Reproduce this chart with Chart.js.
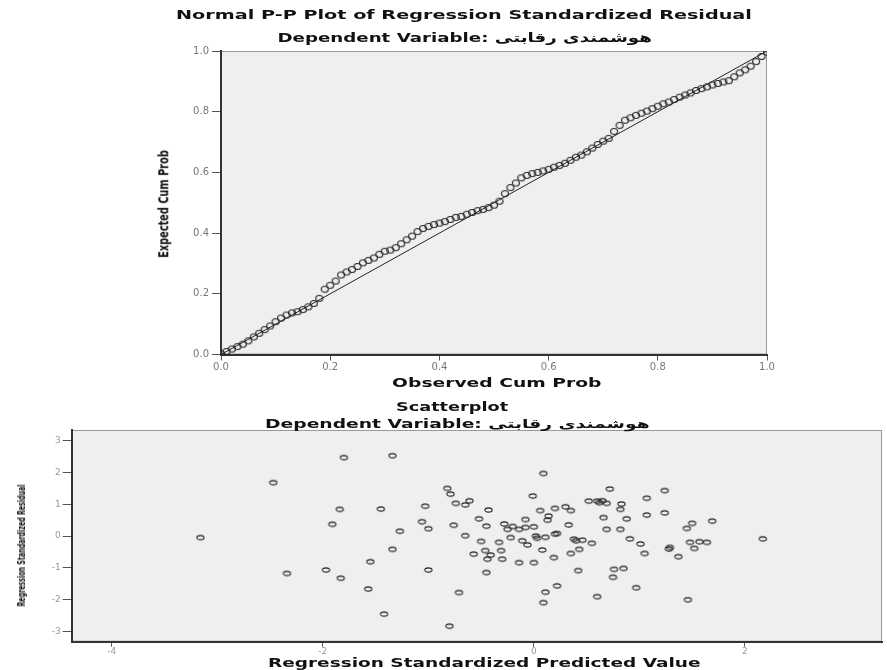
<!DOCTYPE html>
<html>
<head>
<meta charset="utf-8">
<script src="https://cdn.jsdelivr.net/npm/chart.js@4.4.1/dist/chart.umd.min.js"></script>
<style>
  body { margin: 0; background: #fff; width: 887px; height: 670px; overflow: hidden; position: relative; font-family: "DejaVu Sans", sans-serif; }
  canvas { position: absolute; left: 0; }
  #pp { top: 0; }
  #sc { top: 400px; }
  .lbl { position: absolute; white-space: nowrap; font-weight: bold; color: #111; line-height: 1; }
</style>
</head>
<body>
<canvas id="pp" width="887" height="400"></canvas>
<canvas id="sc" width="887" height="270"></canvas>
<script>
// P-P plot: observed vs expected cumulative probability
const ppObserved = [0.00,0.01,0.02,0.03,0.04,0.05,0.06,0.07,0.08,0.09,0.10,0.11,0.12,0.13,0.14,0.15,0.16,0.17,0.18,0.19,
  0.20,0.21,0.22,0.23,0.24,0.25,0.26,0.27,0.28,0.29,0.30,0.31,0.32,0.33,0.34,0.35,0.36,0.37,0.38,0.39,
  0.40,0.41,0.42,0.43,0.44,0.45,0.46,0.47,0.48,0.49,0.50,0.51,0.52,0.53,0.54,0.55,0.56,0.57,0.58,0.59,
  0.60,0.61,0.62,0.63,0.64,0.65,0.66,0.67,0.68,0.69,0.70,0.71,0.72,0.73,0.74,0.75,0.76,0.77,0.78,0.79,
  0.80,0.81,0.82,0.83,0.84,0.85,0.86,0.87,0.88,0.89,0.90,0.91,0.92,0.93,0.94,0.95,0.96,0.97,0.98,0.99,1.00];
const ppExpected = [0.003,0.010,0.018,0.026,0.034,0.045,0.058,0.070,0.082,0.094,0.108,0.120,0.130,0.137,0.141,0.148,0.157,0.168,0.185,0.215,
  0.228,0.242,0.262,0.272,0.280,0.290,0.302,0.310,0.318,0.330,0.340,0.344,0.352,0.365,0.378,0.390,0.405,0.415,0.422,0.428,
  0.433,0.438,0.445,0.452,0.455,0.462,0.468,0.474,0.478,0.484,0.492,0.505,0.530,0.550,0.565,0.582,0.590,0.596,0.600,0.605,
  0.610,0.617,0.623,0.630,0.640,0.650,0.657,0.668,0.680,0.692,0.703,0.712,0.735,0.755,0.772,0.780,0.788,0.795,0.802,0.810,
  0.818,0.826,0.832,0.840,0.848,0.855,0.862,0.870,0.876,0.882,0.888,0.893,0.898,0.902,0.915,0.928,0.938,0.950,0.965,0.982,0.996];
const diagLine = [0, 1];
const ppTicks = [0, 0.2, 0.4, 0.6, 0.8, 1.0];

// Scatterplot: standardized predicted value vs standardized residual
const scatterX = [-1.80,-1.34,-2.47,-1.84,-1.45,-1.03,-1.91,-1.06,-1.27,-1.00,-3.16,-1.34,-1.55,-1.97,-1.00,-2.34,-1.83,-1.57,-1.42,
  0.09,-0.82,-0.79,-0.61,-0.74,-0.65,-0.01,-0.43,0.06,0.20,0.30,0.35,0.14,0.13,0.52,0.60,0.65,0.69,0.72,0.83,0.82,
  1.07,1.24,1.24,1.07,0.88,0.66,-0.52,-0.08,-0.76,-0.45,-0.28,-0.25,-0.14,-0.08,0.00,0.33,0.69,0.82,1.50,1.45,1.69,
  -0.65,-0.50,-0.33,-0.11,0.02,0.11,0.20,-0.06,0.38,0.46,0.55,0.91,1.01,1.29,1.28,1.48,1.57,1.64,1.52,1.37,1.05,
  -0.57,-0.46,-0.31,-0.41,-0.44,-0.30,-0.14,0.00,0.08,0.19,0.35,0.43,-0.45,0.42,0.76,0.85,0.75,-0.71,0.22,0.11,0.09,
  0.60,0.97,1.46,-0.80,2.17,0.03,0.22,-0.20,0.40,-0.22,0.62];
const scatterY = [2.47,2.53,1.68,0.84,0.85,0.94,0.37,0.45,0.15,0.23,-0.05,-0.42,-0.81,-1.07,-1.07,-1.18,-1.33,-1.67,-2.46,
  1.97,1.50,1.32,1.11,1.03,0.98,1.26,0.82,0.80,0.87,0.92,0.80,0.63,0.50,1.10,1.10,1.11,1.03,1.48,1.01,0.84,
  1.19,1.43,0.73,0.66,0.54,0.58,0.54,0.52,0.34,0.31,0.38,0.21,0.21,0.27,0.29,0.35,0.21,0.21,0.40,0.24,0.47,
  0.01,-0.17,-0.20,-0.15,0.00,-0.04,0.06,-0.28,-0.10,-0.13,-0.23,-0.09,-0.25,-0.36,-0.41,-0.20,-0.18,-0.20,-0.39,-0.65,-0.55,
  -0.57,-0.46,-0.46,-0.60,-0.73,-0.73,-0.84,-0.84,-0.44,-0.68,-0.55,-0.42,-1.15,-1.09,-1.05,-1.02,-1.30,-1.78,-1.57,-1.77,-2.10,
  -1.91,-1.63,-2.01,-2.84,-0.09,-0.07,0.08,0.30,-0.15,-0.05,1.05];
const scatterXTicks = [-4, -2, 0, 2];
const scatterYTicks = [3, 2, 1, 0, -1, -2, -3];

Chart.defaults.font.family = '"DejaVu Sans", sans-serif';
Chart.defaults.animation = false;

// grey plot area with a thin frame
const plotBg = {
  id: "plotBg",
  beforeDraw(chart) {
    const { ctx, chartArea: a } = chart;
    ctx.save();
    ctx.fillStyle = "#efefef";
    ctx.fillRect(a.left, a.top, a.right - a.left, a.bottom - a.top);
    ctx.strokeStyle = "#9a9a9a";
    ctx.lineWidth = 1;
    ctx.strokeRect(a.left + 0.5, a.top + 0.5, a.right - a.left - 1, a.bottom - a.top - 1);
    ctx.restore();
  }
};

function ring(rx, ry) {
  const c = document.createElement("canvas");
  c.width = Math.ceil(rx * 2 + 3);
  c.height = Math.ceil(ry * 2 + 3);
  const g = c.getContext("2d");
  g.strokeStyle = "#222";
  g.lineWidth = 1.1;
  g.beginPath();
  g.ellipse(c.width / 2, c.height / 2, rx, ry, 0, 0, Math.PI * 2);
  g.stroke();
  return c;
}

function addLabel(text, cx, cy, w, size, family, rotate) {
  const d = document.createElement("div");
  d.className = "lbl";
  d.textContent = text;
  d.style.fontSize = size + "px";
  if (family) d.style.fontFamily = family;
  document.body.appendChild(d);
  const sx = w / d.offsetWidth;
  d.style.left = (cx - d.offsetWidth / 2) + "px";
  d.style.top = (cy - d.offsetHeight / 2) + "px";
  d.style.transform = (rotate ? "rotate(-90deg) " : "") + "scaleX(" + sx + ")";
}

new Chart(document.getElementById("pp"), {
  type: "scatter",
  data: {
    datasets: [
      {
        data: ppObserved.map((x, i) => ({ x, y: ppExpected[i] })),
        pointStyle: ring(3.5, 3),
        pointRadius: 3
      },
      {
        data: diagLine.map(v => ({ x: v, y: v })),
        showLine: true,
        pointRadius: 0,
        borderColor: "#222",
        borderWidth: 1
      }
    ]
  },
  options: {
    responsive: false,
    layout: { padding: { top: 51, right: 120, bottom: 0, left: 0 } },
    plugins: { legend: { display: false }, tooltip: { enabled: false } },
    scales: {
      x: {
        type: "linear", min: 0, max: 1,
        afterBuildTicks: s => { s.ticks = ppTicks.map(v => ({ value: v })); },
        afterFit: s => { s.height = 45.5; },
        ticks: { callback: v => v.toFixed(1), color: "#777", font: { size: 10 }, padding: 1, maxRotation: 0, autoSkip: false },
        grid: { drawOnChartArea: false, tickLength: 6, color: "#555" },
        border: { color: "#333", width: 2 }
      },
      y: {
        type: "linear", min: 0, max: 1,
        afterBuildTicks: s => { s.ticks = ppTicks.map(v => ({ value: v })); },
        afterFit: s => { s.width = 221; },
        ticks: { callback: v => v.toFixed(1), color: "#777", font: { size: 10 }, padding: 3, autoSkip: false },
        grid: { drawOnChartArea: false, tickLength: 9, color: "#555" },
        border: { color: "#333", width: 2 }
      }
    }
  },
  plugins: [plotBg]
});

new Chart(document.getElementById("sc"), {
  type: "scatter",
  data: {
    datasets: [{
      data: scatterX.map((x, i) => ({ x, y: scatterY[i] })),
      pointStyle: ring(3.6, 2.1),
      pointRadius: 3
    }]
  },
  options: {
    responsive: false,
    layout: { padding: { top: 30, right: 0, bottom: 0, left: 0 } },
    plugins: { legend: { display: false }, tooltip: { enabled: false } },
    scales: {
      x: {
        type: "linear", min: -4.38, max: 3.3,
        afterBuildTicks: s => { s.ticks = scatterXTicks.map(v => ({ value: v })); },
        afterFit: s => { s.height = 28.3; },
        ticks: { color: "#999", font: { size: 9 }, padding: 0, maxRotation: 0, autoSkip: false },
        grid: { drawOnChartArea: false, tickLength: 5, color: "#555" },
        border: { color: "#333", width: 2 }
      },
      y: {
        type: "linear", min: -3.33, max: 3.34,
        afterBuildTicks: s => { s.ticks = scatterYTicks.map(v => ({ value: v })); },
        afterFit: s => { s.width = 71.7; },
        ticks: { color: "#999", font: { size: 9 }, padding: 2, autoSkip: false },
        grid: { drawOnChartArea: false, tickLength: 9, color: "#555" },
        border: { color: "#333", width: 2 }
      }
    }
  },
  plugins: [plotBg]
});

addLabel("Normal P-P Plot of Regression Standardized Residual", 464, 14, 576, 13);
addLabel("Dependent Variable: هوشمندی رقابتی", 464, 37, 374, 13);
addLabel("Observed Cum Prob", 497, 382, 210, 13);
addLabel("Expected Cum Prob", 163, 204, 108, 14, '"Liberation Sans Narrow", "DejaVu Sans Condensed", sans-serif', true);
addLabel("Scatterplot", 452, 407, 112, 12);
addLabel("Dependent Variable: هوشمندی رقابتی", 457, 424, 385, 12);
addLabel("Regression Standardized Predicted Value", 484, 663, 432, 12);
addLabel("Regression Standardized Residual", 21, 545, 122, 11, '"Liberation Sans Narrow", "DejaVu Sans Condensed", sans-serif', true);
</script>
</body>
</html>
